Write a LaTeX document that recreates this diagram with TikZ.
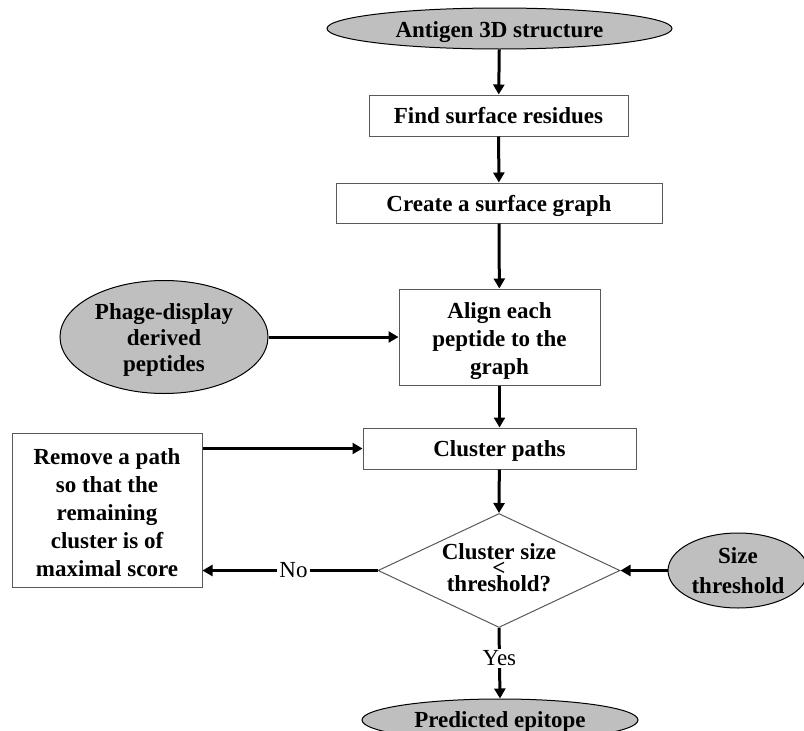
\documentclass[tikz,border=0pt]{standalone}
\usepackage{fontspec}
\setmainfont{Liberation Serif}
\usetikzlibrary{shapes.geometric,arrows.meta}
\tikzset{
  base/.style={font=\fontsize{23}{28}\selectfont\bfseries, align=center},
  io/.style={base, ellipse, draw=black, line width=1pt, fill=black!25, inner sep=0pt},
  proc/.style={base, rectangle, draw=black!65, line width=1pt, fill=white, inner sep=0pt},
  oneline/.style={text depth=0pt},
  conn/.style={line width=3pt, -{Triangle[length=10pt,width=11pt]}},
  lbl/.style={font=\fontsize{23}{28}\selectfont, fill=white, inner sep=2pt}
}
\begin{document}
\begin{tikzpicture}[x=1pt,y=-1pt]
\useasboundingbox (0,0) rectangle (804,731);
\clip (0,0) rectangle (804,731);
\node[io, oneline, minimum width=345, minimum height=41] (ant) at (499.5,28.5) {\raisebox{-2pt}{Antigen 3D structure}};
\node[proc, oneline, minimum width=259, minimum height=41] (find) at (498.5,115.5) {Find surface residues};
\node[proc, oneline, minimum width=326, minimum height=40] (create) at (499,203) {Create a surface graph};
\node[proc, minimum width=201, minimum height=96] (align) at (499.5,337) {\rule{0pt}{24pt}Align each\\peptide to the\\graph};
\node[io, minimum width=208, minimum height=113, font=\fontsize{23}{26}\selectfont\bfseries] (phage) at (164,337) {\rule{0pt}{22pt}Phage-display\\derived\\peptides};
\node[proc, oneline, minimum width=273, minimum height=41] (cluster) at (499.5,448.5) {Cluster paths};
\node[proc, minimum width=190, minimum height=154] (remove) at (107,510) {\rule{0pt}{21pt}Remove a path\\so that the\\remaining\\cluster is of\\maximal score};
\node[diamond, draw=black!65, line width=1pt, fill=white, minimum width=242, minimum height=114, inner sep=0pt] (dec) at (499,570.5) {};
\node[base] (dectext) at (499,568) {Cluster size\\[-12pt]{<}\\[-12pt]threshold?};
\node[io, minimum width=140, minimum height=75, font=\fontsize{23}{30}\selectfont\bfseries] (size) at (738,570.5) {Size\\threshold};
\node[io, oneline, minimum width=276, minimum height=42] (pred) at (500,720) {Predicted epitope};

\draw[conn] (ant) -- (find);
\draw[conn] (find) -- (create);
\draw[conn] (create) -- (align);
\draw[conn] (phage.east) -- (align.west);
\draw[conn] (align) -- (cluster);
\draw[conn] (remove.east |- cluster.west) -- (cluster.west);
\draw[conn] (cluster) -- (dec.north);
\draw[conn] (dec.west) -- node[lbl, pos=0.48] (no) {No} (dec.west -| remove.east);
\draw[conn] (size.west) -- (dec.east);
\draw[conn] (dec.south) -- node[lbl, pos=0.43] (yes) {Yes} (pred.north);
\end{tikzpicture}
\end{document}
